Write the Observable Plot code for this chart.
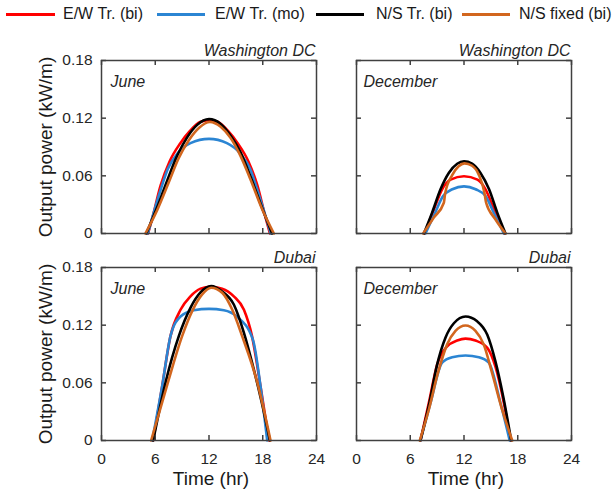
<!DOCTYPE html>
<html><head><meta charset="utf-8">
<script src="https://cdn.jsdelivr.net/npm/d3@7"></script>
<script src="https://cdn.jsdelivr.net/npm/@observablehq/plot@0.6"></script>
<style>
body{margin:0;background:#fff;}
#chart{position:relative;width:613px;height:493px;background:#fff;font-family:"Liberation Sans",Arial,sans-serif;color:#262626;overflow:hidden}
.panel{position:absolute}
.leg-line{position:absolute;height:3px;top:12.5px}
.leg-text{position:absolute;top:14px;transform:translateY(-50%);font-size:16px;line-height:1;white-space:nowrap;color:#1a1a1a}
</style></head><body><div id="chart"></div>
<script>
// ---------- labels ----------
const seriesNames = ["E/W Tr. (bi)", "E/W Tr. (mo)", "N/S Tr. (bi)", "N/S fixed (bi)"];
const seriesColors = ["#ff0000", "#2b85d3", "#000000", "#d2661e"];
const xTicks = [0, 6, 12, 18, 24];
const yTicks = [0, 0.06, 0.12, 0.18];
const xLabel = "Time (hr)";
const yLabel = "Output power (kW/m)";

// ---------- Washington DC, June ----------
const dcJunEWbi = [[5.2,0],[5.7,0.017],[6.6,0.05],[7.6,0.075],[8.8,0.094],[9.9,0.107],[11,0.116],[12,0.118],[13,0.116],[14.1,0.107],[15.2,0.094],[16.4,0.075],[17.4,0.05],[18.3,0.017],[18.8,0]];
const dcJunEWmo = [[5.17,0],[6.59,0.045],[7.4,0.067],[8.45,0.083],[9.93,0.094],[12,0.0985],[14.0,0.094],[15.5,0.083],[16.6,0.067],[17.4,0.045],[18.9,0]];
const dcJunNSbi = [[5.0,0],[6.2,0.027],[7.33,0.055],[8.45,0.081],[9.56,0.100],[10.68,0.113],[12,0.119],[13.3,0.114],[14.4,0.102],[15.5,0.085],[16.6,0.060],[17.75,0.031],[19.05,0]];
const dcJunNSfx = [[4.9,0],[6.2,0.024],[7.5,0.053],[8.6,0.078],[9.75,0.097],[10.9,0.110],[12.1,0.116],[13.3,0.111],[14.4,0.0995],[15.5,0.081],[16.6,0.057],[17.9,0.026],[19.24,0]];

// ---------- Washington DC, December ----------
const dcDecEWbi = [[7.6,0],[8.6,0.024],[9.56,0.046],[10.5,0.056],[12,0.0595],[13.5,0.056],[14.4,0.046],[15.4,0.024],[16.5,0]];
const dcDecEWmo = [[7.7,0],[8.7,0.02],[9.67,0.039],[10.7,0.046],[12,0.049],[13.3,0.046],[14.4,0.039],[15.4,0.02],[16.45,0]];
const dcDecNSbi = [[7.52,0],[8.45,0.022],[9.38,0.046],[10.3,0.063],[11.24,0.0726],[12,0.075],[12.9,0.0726],[13.84,0.063],[14.8,0.046],[15.7,0.022],[16.63,0]];
const dcDecNSfx = [[7.44,0],[8.63,0.0165],[9.75,0.032],[9.9,0.042],[10.7,0.061],[11.4,0.070],[12.06,0.073],[12.9,0.0705],[13.66,0.061],[14.29,0.042],[14.47,0.032],[15.5,0.0148],[16.63,0]];

// ---------- Dubai, June ----------
const dxJunEWbi = [[5.77,0],[6.77,0.0565],[7.7,0.1086],[8.82,0.136],[9.93,0.150],[11.05,0.158],[12.17,0.160],[13.47,0.158],[14.77,0.150],[15.9,0.136],[16.8,0.1086],[17.75,0.0565],[18.7,0]];
const dxJunEWmo = [[5.66,0],[6.77,0.0565],[7.7,0.1086],[8.82,0.129],[10.3,0.1356],[12,0.137],[13.66,0.1356],[15.1,0.129],[16.9,0.105],[17.75,0.0565],[18.5,0]];
const dxJunNSbi = [[5.77,0],[7.14,0.06],[8.63,0.1086],[9.93,0.138],[11.05,0.154],[12.24,0.1606],[13.47,0.155],[14.77,0.1415],[15.9,0.112],[17.0,0.074],[17.9,0.039],[18.8,0]];
const dxJunNSfx = [[5.54,0],[7.4,0.06],[9.0,0.1086],[10.12,0.1346],[11.24,0.152],[12.24,0.159],[13.47,0.1537],[14.6,0.136],[15.7,0.1086],[17.4,0.06],[18.87,0]];

// ---------- Dubai, December ----------
const dxDecEWbi = [[7.14,0],[8.07,0.039],[9.0,0.079],[10.12,0.098],[11.24,0.104],[12.17,0.106],[13.28,0.104],[14.6,0.0964],[15.5,0.077],[16.45,0.039],[17.2,0]];
const dxDecEWmo = [[7.14,0],[8.26,0.039],[9.56,0.081],[10.68,0.0867],[12.17,0.0885],[13.66,0.0867],[14.77,0.081],[16.07,0.039],[17.1,0]];
const dxDecNSbi = [[7.14,0],[8.07,0.036],[9.0,0.079],[9.93,0.107],[10.87,0.122],[12.17,0.129],[13.47,0.124],[14.6,0.110],[15.5,0.0826],[16.37,0.046],[17.27,0]];
const dxDecNSfx = [[7.07,0],[8.07,0.032],[9.08,0.070],[10.12,0.100],[11.05,0.114],[12.17,0.1197],[13.28,0.114],[14.2,0.100],[15.14,0.070],[16.26,0.032],[17.38,0]];

const months = ["June", "December"];
const cities = ["Washington DC", "Dubai"];

// ---------- drawing ----------
const chart = document.getElementById("chart");
const FONT = '"Liberation Sans", Arial, sans-serif';
const AX = "#404040";

// legend
const legLines = [[6,55],[157,205],[316,364],[462,510]];
const legText = [63, 215, 376, 519];
seriesNames.forEach((n, i) => {
  const l = document.createElement("div");
  l.className = "leg-line";
  l.style.left = legLines[i][0] + "px";
  l.style.width = (legLines[i][1] - legLines[i][0]) + "px";
  l.style.background = seriesColors[i];
  chart.appendChild(l);
  const t = document.createElement("div");
  t.className = "leg-text";
  t.style.left = legText[i] + "px";
  t.textContent = n;
  chart.appendChild(t);
});

function panel(o) {
  const innerW = o.width - o.mL - o.mR;
  const innerH = o.height - o.mT - o.mB;
  const marks = [];
  o.curves.forEach((c, i) => {
    marks.push(Plot.line(c, {x: d => d[0], y: d => d[1], stroke: seriesColors[i], strokeWidth: 2.6, curve: "monotone-x"}));
  });
  marks.push(Plot.frame({stroke: AX, strokeWidth: 1.5}));
  marks.push(Plot.tickX(xTicks, {x: d => d, insetTop: innerH - 5, stroke: AX, strokeWidth: 1.5}));
  marks.push(Plot.tickX(xTicks, {x: d => d, insetBottom: innerH - 5, stroke: AX, strokeWidth: 1.5}));
  marks.push(Plot.tickY(yTicks, {y: d => d, insetRight: innerW - 5, stroke: AX, strokeWidth: 1.5}));
  marks.push(Plot.tickY(yTicks, {y: d => d, insetLeft: innerW - 5, stroke: AX, strokeWidth: 1.5}));
  marks.push(Plot.text([o.month], {frameAnchor: "top-left", textAnchor: "start", lineAnchor: "middle", dx: o.monthDx, dy: 21.5, fontSize: 16, fontStyle: "italic", fill: "#262626"}));
  marks.push(Plot.text([o.city], {frameAnchor: "top-right", textAnchor: "end", lineAnchor: "middle", dx: -1, dy: -10, fontSize: 16, fontStyle: "italic", fill: "#262626"}));
  if (o.yLabels) {
    marks.push(Plot.axisY({ticks: yTicks, tickSize: 0, tickPadding: 9, tickFormat: d => d === 0 ? "0" : d.toFixed(2), label: null, fontSize: 15.5}));
    marks.push(Plot.text([yLabel], {frameAnchor: "left", rotate: -90, textAnchor: "middle", lineAnchor: "middle", dx: -56, fontSize: 19, fill: "#1a1a1a"}));
  }
  if (o.xLabels) {
    marks.push(Plot.axisX({ticks: xTicks, tickSize: 0, tickPadding: 12, tickFormat: d => String(d), label: null, fontSize: 15.5}));
    marks.push(Plot.text([xLabel], {frameAnchor: "bottom", textAnchor: "middle", lineAnchor: "middle", dx: 2, dy: 38, fontSize: 19, fill: "#1a1a1a"}));
  }
  const svg = Plot.plot({
    width: o.width, height: o.height,
    marginLeft: o.mL, marginRight: o.mR, marginTop: o.mT, marginBottom: o.mB,
    x: {domain: [0, 24], axis: o.xLabels ? undefined : null},
    y: {domain: [0, 0.18], axis: o.yLabels ? undefined : null},
    style: {fontFamily: FONT, fontSize: "15.5px", color: "#262626", background: "transparent", overflow: "visible"},
    marks
  });
  svg.classList.add("panel");
  svg.style.position = "absolute";
  svg.style.left = o.left + "px";
  svg.style.top = o.top + "px";
  chart.appendChild(svg);
}

panel({curves: [dcJunEWbi, dcJunEWmo, dcJunNSbi, dcJunNSfx], month: months[0], city: cities[0], monthDx: 9,
  left: 0, top: 40, width: 336, height: 200, mL: 101, mR: 20, mT: 20, mB: 7, yLabels: true, xLabels: false});
panel({curves: [dcDecEWbi, dcDecEWmo, dcDecNSbi, dcDecNSfx], month: months[1], city: cities[0], monthDx: 7,
  left: 336, top: 40, width: 277, height: 200, mL: 20, mR: 42, mT: 20, mB: 7, yLabels: false, xLabels: false});
panel({curves: [dxJunEWbi, dxJunEWmo, dxJunNSbi, dxJunNSfx], month: months[0], city: cities[1], monthDx: 9,
  left: 0, top: 240, width: 336, height: 253, mL: 101, mR: 20, mT: 27, mB: 53, yLabels: true, xLabels: true});
panel({curves: [dxDecEWbi, dxDecEWmo, dxDecNSbi, dxDecNSfx], month: months[1], city: cities[1], monthDx: 7,
  left: 336, top: 240, width: 277, height: 253, mL: 20, mR: 42, mT: 27, mB: 53, yLabels: false, xLabels: true});
</script>
</body></html>
